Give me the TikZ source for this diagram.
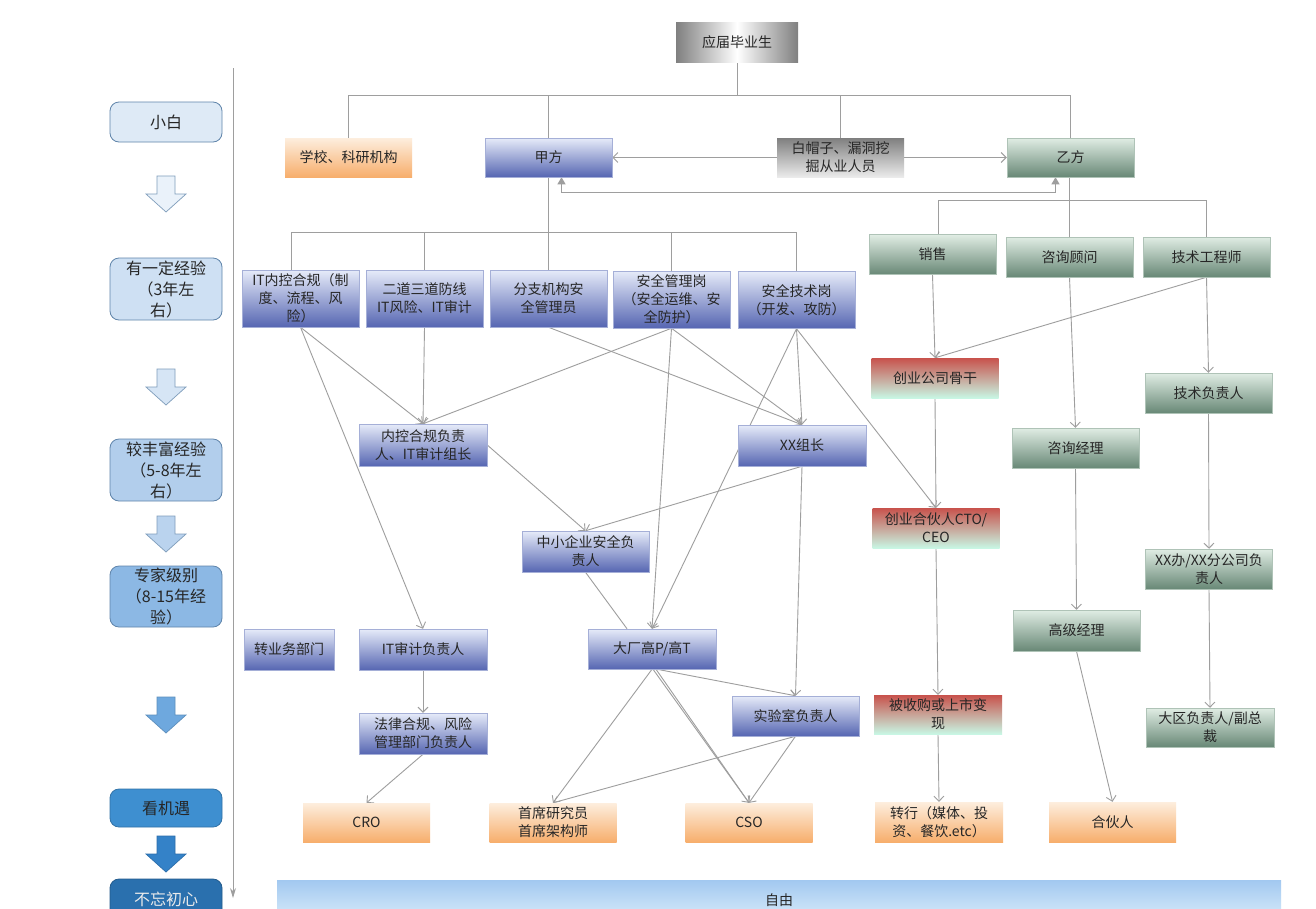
\documentclass[tikz,border=0pt]{standalone}
\usepackage{fontspec}
\newfontfamily\cjk{Noto Sans CJK SC}
\usetikzlibrary{arrows.meta}
\pgfdeclarelayer{bg}
\pgfsetlayers{bg,main}
\definecolor{lnc}{RGB}{158,158,158}
\definecolor{bluetop}{RGB}{230,235,249}
\definecolor{bluebot}{RGB}{86,102,178}
\definecolor{bluebrd}{RGB}{165,175,215}
\definecolor{greentop}{RGB}{224,237,228}
\definecolor{greenbot}{RGB}{104,136,118}
\definecolor{greenbrd}{RGB}{175,195,183}
\definecolor{redtop}{RGB}{200,82,76}
\definecolor{redbot}{RGB}{200,246,228}
\definecolor{orgtop}{RGB}{253,238,222}
\definecolor{orgbot}{RGB}{247,174,108}
\definecolor{lvbrd}{RGB}{95,132,170}
\definecolor{lvA}{RGB}{222,234,246}
\definecolor{lvB}{RGB}{206,224,243}
\definecolor{lvC}{RGB}{178,206,236}
\definecolor{lvD}{RGB}{140,184,228}
\definecolor{lvE}{RGB}{62,143,208}
\definecolor{lvF}{RGB}{42,112,174}
\definecolor{arA}{RGB}{234,242,250}
\definecolor{arB}{RGB}{214,229,245}
\definecolor{arC}{RGB}{186,211,238}
\definecolor{arD}{RGB}{110,168,222}
\definecolor{arE}{RGB}{52,130,200}
\definecolor{bandtop}{RGB}{162,200,240}
\definecolor{bandbot}{RGB}{216,236,250}
\newcommand\blkarrow[3]{%
  \draw[draw=#3, fill=#2, line width=0.7pt]
    (157,#1) -- (175,#1) -- (175,#1+18) -- (186,#1+18) -- (166,#1+36)
    -- (146,#1+18) -- (157,#1+18) -- cycle;}
\tikzset{
  base/.style={font=\cjk\fontsize{14}{18}\selectfont, text=black!85, align=center,
    inner sep=0pt, minimum width=127pt, minimum height=40pt},
  bluebox/.style={base, top color=bluetop, bottom color=bluebot, draw=bluebrd, line width=0.5pt},
  greenbox/.style={base, top color=greentop, bottom color=greenbot, draw=greenbrd, line width=0.5pt},
  redbox/.style={base, top color=redtop, bottom color=redbot},
  orgbox/.style={base, top color=orgtop, bottom color=orgbot},
  tall/.style={minimum width=117pt, minimum height=57pt},
  lvl/.style={font=\cjk\fontsize{16}{21}\selectfont, text=black!85, align=center, inner sep=0pt,
    rounded corners=9pt, draw=lvbrd, line width=0.8pt, minimum width=112pt, minimum height=40pt},
  ln/.style={draw=lnc, line width=0.9pt},
  arr/.style={-{Straight Barb[length=5pt,width=10pt]}},
}
\begin{document}
\begin{tikzpicture}[x=1pt,y=-1pt]
\useasboundingbox (0,0) rectangle (1316,908);

% left axis and levels
\coordinate (axtop) at (233,68);
\coordinate (axbot) at (233,898);
\draw[ln, line width=1pt, -{Stealth[length=10pt,width=6pt]}] (axtop) -- (axbot);

\node[lvl, fill=lvA] (l1) at (166,122) {小白};
\node[lvl, fill=lvB, minimum height=62pt] (l2) at (166,289) {有一定经验\\（3年左\\右）};
\node[lvl, fill=lvC, minimum height=62pt] (l3) at (166,470) {较丰富经验\\（5-8年左\\右）};
\node[lvl, fill=lvD, minimum height=61pt] (l4) at (166,596.5) {专家级别\\（8-15年经\\验）};
\node[lvl, fill=lvE, draw=lvE!80!black, minimum height=38pt] (l5) at (166,808) {看机遇};
\node[lvl, fill=lvF, draw=lvF!80!black, text=white!92!black, minimum height=40pt] (l6) at (166,899) {不忘初心};
\blkarrow{176}{arA}{lvbrd!80}
\blkarrow{369}{arB}{lvbrd!80}
\blkarrow{516}{arC}{lvbrd!80}
\blkarrow{697}{arD}{arD!85!black}
\blkarrow{836}{arE}{arE!85!black}

% top
\node[base, left color=black!50, right color=black!50, middle color=white, minimum width=122pt] (yj) at (737,42) {应届毕业生};
\node[orgbox, minimum height=39pt] (sch) at (348.5,157.5) {学校、科研机构};
\node[bluebox, minimum height=39pt] (jia) at (548.5,157.5) {甲方};
\node[base, top color=black!50, bottom color=black!8, minimum height=39pt] (bmz) at (840.5,157.5) {白帽子、漏洞挖\\掘从业人员};
\node[greenbox, minimum height=39pt] (yi) at (1070.5,157.5) {乙方};

% jia children
\node[bluebox, tall] (itnk) at (300.5,298.5) {IT内控合规（制\\度、流程、风\\险）};
\node[bluebox, tall] (edsd) at (424.5,298.5) {二道三道防线\\IT风险、IT审计};
\node[bluebox, tall] (fz) at (548.5,298.5) {分支机构安\\全管理员};
\node[bluebox, tall] (aqgl) at (671.5,299.5) {安全管理岗\\（安全运维、安\\全防护）};
\node[bluebox, tall] (aqjs) at (796.5,300) {安全技术岗\\（开发、攻防）};

\node[bluebox, minimum width=128pt, minimum height=42pt] (nkfz) at (423,445) {内控合规负责\\人、IT审计组长};
\node[bluebox, minimum width=128pt, minimum height=41pt] (xxzz) at (802,445.5) {XX组长};
\node[bluebox, minimum width=127pt, minimum height=41pt] (zx) at (585.5,551.5) {中小企业安全负\\责人};
\node[bluebox, minimum width=90pt, minimum height=41pt] (zyw) at (289,649.5) {转业务部门};
\node[bluebox, minimum width=128pt, minimum height=41pt] (itsj) at (423,649.5) {IT审计负责人};
\node[bluebox, minimum width=128pt] (dc) at (652,649) {大厂高P/高T};
\node[bluebox, minimum width=127pt] (sys) at (795.5,716) {实验室负责人};
\node[bluebox, minimum width=128pt, minimum height=41pt] (fl) at (423,733.5) {法律合规、风险\\管理部门负责人};
\node[orgbox, minimum height=39pt] (cro) at (366.5,822.5) {CRO};
\node[orgbox, minimum height=39pt] (sx) at (553,822.5) {首席研究员\\首席架构师};
\node[orgbox, minimum height=39pt] (cso) at (749,822.5) {CSO};

% yi children
\node[greenbox] (xs) at (932.5,254.5) {销售};
\node[greenbox] (zxgw) at (1069.5,257) {咨询顾问};
\node[greenbox] (jsgcs) at (1206.5,257) {技术工程师};
\node[redbox] (cygg) at (935,378) {创业公司骨干};
\node[greenbox] (jsfz) at (1208.5,393) {技术负责人};
\node[greenbox] (zxjl) at (1075.5,448) {咨询经理};
\node[redbox] (cyhh) at (936,528) {创业合伙人CTO/\\CEO};
\node[greenbox] (xxb) at (1209,569) {XX办/XX分公司负\\责人};
\node[greenbox, minimum height=41pt] (gjjl) at (1076.5,630.5) {高级经理};
\node[redbox, minimum width=128pt, minimum height=39pt] (bsg) at (938,714.5) {被收购或上市变\\现};
\node[greenbox, minimum width=128pt, minimum height=39pt] (dq) at (1210,727.5) {大区负责人/副总\\裁};
\node[orgbox, minimum width=128pt] (zh) at (939,822) {转行（媒体、投\\资、餐饮.etc）};
\node[orgbox] (hhr) at (1112.5,822) {合伙人};

% band
\node[base, top color=bandtop, bottom color=bandbot, minimum width=1004pt, minimum height=40pt] (free) at (779,900) {自由};

\begin{pgfonlayer}{bg}
\fill[white] (0,0) rectangle (1316,908);
\draw[ln] (yj.south) -- ++(0,33) -| (sch.north);
\draw[ln] (yj.south) -- ++(0,33) -| (jia.north);
\draw[ln] (yj.south) -- ++(0,33) -| (bmz.north);
\draw[ln] (yj.south) -- ++(0,33) -| (yi.north);
\draw[ln,arr] (bmz.west) -- (jia.east);
\draw[ln,arr] (bmz.east) -- (yi.west);
\draw[ln,{Triangle[length=7pt,width=8pt]}-{Triangle[length=7pt,width=8pt]}]
  ([xshift=13pt]jia.south) -- ++(0,15) -| ([xshift=-15pt]yi.south);

\draw[ln] (jia.south) -- ++(0,55) -| ([xshift=-9pt]itnk.north);
\draw[ln] (jia.south) -- ++(0,55) -| (edsd.north);
\draw[ln] (jia.south) -- ++(0,55) -| (fz.north);
\draw[ln] (jia.south) -- ++(0,55) -| (aqgl.north);
\draw[ln] (jia.south) -- ++(0,55) -| (aqjs.north);

\draw[ln] ([xshift=-1.5pt]yi.south) -- ++(0,23) -| ([xshift=6pt]xs.north);
\draw[ln] ([xshift=-1.5pt]yi.south) -- ++(0,23) -| (zxgw.north);
\draw[ln] ([xshift=-1.5pt]yi.south) -- ++(0,23) -| (jsgcs.north);

\draw[ln,arr] (itnk.south) -- (nkfz.north);
\draw[ln,arr] (itnk.south) -- (itsj.north);
\draw[ln,arr] (edsd.south) -- (nkfz.north);
\draw[ln,arr] (aqgl.south) -- (nkfz.north);
\draw[ln,arr] (fz.south) -- (xxzz.north);
\draw[ln,arr] (aqgl.south) -- (xxzz.north);
\draw[ln,arr] (aqgl.south) -- (dc.north);
\draw[ln,arr] (aqjs.south) -- (xxzz.north);
\draw[ln,arr] (aqjs.south) -- (dc.north);
\draw[ln,arr] (aqjs.south) -- (cyhh.north);
\draw[ln,arr] (nkfz.east) -- (zx.north);
\draw[ln,arr] (xxzz.south) -- (zx.north);
\draw[ln] (zx.south) -- ([xshift=-25pt]dc.north);
\draw[ln,arr] (xxzz.south) -- (sys.north);
\draw[ln,arr] (itsj.south) -- (fl.north);
\draw[ln,arr] (fl.south) -- (cro.north);
\draw[ln,arr] (dc.south) -- (sx.north);
\draw[ln,arr] ([xshift=1pt]dc.south) -- (cso.north);
\draw[ln] ([xshift=4pt]dc.south) -- (cso.north);
\draw[ln,arr] ([xshift=5pt]dc.south) -- (sys.north);
\draw[ln,arr] (sys.south) -- (sx.north);
\draw[ln,arr] (sys.south) -- (cso.north);

\draw[ln,arr] (xs.south) -- (cygg.north);
\draw[ln,arr] (jsgcs.south) -- (cygg.north);
\draw[ln,arr] (jsgcs.south) -- (jsfz.north);
\draw[ln,arr] (zxgw.south) -- (zxjl.north);
\draw[ln,arr] (cygg.south) -- (cyhh.north);
\draw[ln,arr] (jsfz.south) -- (xxb.north);
\draw[ln,arr] (zxjl.south) -- (gjjl.north);
\draw[ln,arr] (cyhh.south) -- (bsg.north);
\draw[ln,arr] (xxb.south) -- (dq.north);
\draw[ln,arr] (gjjl.south) -- (hhr.north);
\draw[ln,arr] (bsg.south) -- (zh.north);
\end{pgfonlayer}
\end{tikzpicture}
\end{document}
